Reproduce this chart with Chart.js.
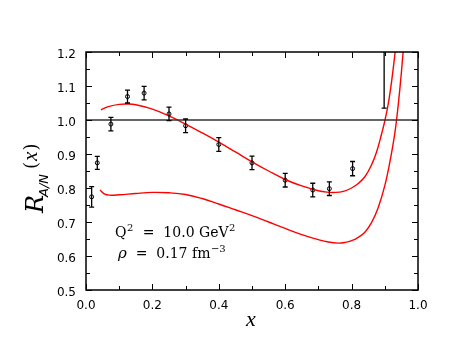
<!DOCTYPE html>
<html>
<head>
<meta charset="utf-8">
<script src="https://cdn.jsdelivr.net/npm/chart.js@4"></script>
<style>
  html, body { margin: 0; padding: 0; background: #fff; }
  #wrap { width: 463px; height: 358px; }
</style>
</head>
<body>
<div id="wrap"><canvas id="ratioChart" width="463" height="358"></canvas></div>
<script>
// measured points with error bars
const dataX = [0.017, 0.034, 0.075, 0.125, 0.175, 0.25, 0.30, 0.40, 0.50, 0.60, 0.683, 0.733, 0.803, 0.898];
const dataY = [0.774, 0.874, 0.988, 1.069, 1.079, 1.018, 0.983, 0.928, 0.874, 0.823, 0.794, 0.798, 0.857, 1.30];
const dataErr = [0.03, 0.019, 0.02, 0.019, 0.02, 0.02, 0.02, 0.02, 0.02, 0.02, 0.02, 0.02, 0.021, 0.265];

// upper model curve
const upperX = [0.045, 0.07, 0.1, 0.125, 0.15, 0.2, 0.25, 0.3, 0.35, 0.4, 0.45, 0.5, 0.55, 0.6, 0.65, 0.7, 0.725, 0.75, 0.775, 0.8, 0.82, 0.84, 0.86, 0.875, 0.89, 0.9, 0.91, 0.92, 0.93, 0.94];
const upperY = [1.030, 1.040, 1.046, 1.047, 1.045, 1.032, 1.012, 0.988, 0.962, 0.935, 0.906, 0.877, 0.850, 0.825, 0.806, 0.792, 0.788, 0.787, 0.790, 0.800, 0.813, 0.833, 0.868, 0.905, 0.958, 0.997, 1.045, 1.11, 1.19, 1.28];

// lower model curve
const lowerX = [0.042, 0.055, 0.07, 0.1, 0.15, 0.2, 0.25, 0.3, 0.35, 0.4, 0.45, 0.5, 0.55, 0.6, 0.65, 0.7, 0.73, 0.76, 0.78, 0.8, 0.82, 0.84, 0.86, 0.88, 0.9, 0.915, 0.93, 0.94, 0.95, 0.96];
const lowerY = [0.794, 0.783, 0.779, 0.780, 0.784, 0.787, 0.786, 0.781, 0.769, 0.753, 0.736, 0.719, 0.700, 0.681, 0.663, 0.648, 0.641, 0.638, 0.640, 0.645, 0.655, 0.670, 0.698, 0.742, 0.807, 0.875, 0.96, 1.04, 1.14, 1.26];

// reference line R = 1
const unityX = [0, 1];
const unityY = [1, 1];

// axis ticks
const xTicks = [0, 0.2, 0.4, 0.6, 0.8, 1.0];
const yTicks = [0.5, 0.6, 0.7, 0.8, 0.9, 1.0, 1.1, 1.2];

const toPts = (xs, ys) => xs.map((x, i) => ({ x: x, y: ys[i] }));

// error bars, frame and inward ticks
const decorPlugin = {
  id: 'decor',
  afterDatasetsDraw(chart) {
    const ctx = chart.ctx;
    const xs = chart.scales.x, ys = chart.scales.y;
    const a = chart.chartArea;

    ctx.save();
    ctx.beginPath();
    ctx.rect(a.left, a.top, a.right - a.left, a.bottom - a.top);
    ctx.clip();
    ctx.strokeStyle = '#000';
    ctx.lineWidth = 1.3;
    dataX.forEach((x, i) => {
      const px = xs.getPixelForValue(x);
      const lo = ys.getPixelForValue(dataY[i] - dataErr[i]);
      const hi = ys.getPixelForValue(dataY[i] + dataErr[i]);
      ctx.beginPath();
      ctx.moveTo(px, lo); ctx.lineTo(px, hi);
      ctx.moveTo(px - 2.5, lo); ctx.lineTo(px + 2.5, lo);
      ctx.moveTo(px - 2.5, hi); ctx.lineTo(px + 2.5, hi);
      ctx.stroke();
    });
    ctx.restore();

    ctx.save();
    ctx.strokeStyle = '#000';
    ctx.lineWidth = 1.5;
    ctx.strokeRect(a.left, a.top, a.right - a.left, a.bottom - a.top);
    ctx.lineWidth = 1;
    ctx.beginPath();
    for (let k = 0; k <= 14; k++) {
      const v = 0.5 + k * 0.05;
      const py = Math.round(ys.getPixelForValue(v)) + 0.5;
      const len = k % 2 === 0 ? 6 : 4;
      ctx.moveTo(a.left, py); ctx.lineTo(a.left + len, py);
      ctx.moveTo(a.right, py); ctx.lineTo(a.right - len, py);
    }
    for (let k = 0; k <= 10; k++) {
      const px = Math.round(xs.getPixelForValue(k * 0.1)) + 0.5;
      const len = k % 2 === 0 ? 6 : 4;
      ctx.moveTo(px, a.bottom); ctx.lineTo(px, a.bottom - len);
      ctx.moveTo(px, a.top); ctx.lineTo(px, a.top + len);
    }
    ctx.stroke();
    ctx.restore();
  },
  afterDraw(chart) {
    const ctx = chart.ctx;
    ctx.save();
    ctx.fillStyle = '#000';

    // x axis title
    ctx.font = 'italic 22px "Liberation Serif"';
    ctx.textAlign = 'center';
    ctx.textBaseline = 'alphabetic';
    ctx.fillText('x', 251, 326);

    // y axis title, rotated
    ctx.save();
    ctx.translate(43, 213);
    ctx.rotate(-Math.PI / 2);
    ctx.textAlign = 'left';
    ctx.font = 'italic 24px "DejaVu Serif"';
    ctx.fillText('R', 0, 0);
    let off = ctx.measureText('R').width - 2;
    ctx.font = 'italic 13px "DejaVu Sans"';
    ctx.fillText('A/N', off, 5);
    off += ctx.measureText('A/N').width + 5;
    ctx.font = '18px "DejaVu Serif"';
    ctx.fillText('(', off, -6);
    off += ctx.measureText('(').width + 1;
    ctx.font = 'italic 21px "Liberation Serif"';
    ctx.fillText('x', off, -6);
    off += ctx.measureText('x').width + 1;
    ctx.font = '18px "DejaVu Serif"';
    ctx.fillText(')', off, -6);
    ctx.restore();

    // annotations
    const big = '14px "DejaVu Serif"';
    const sup = '10px "DejaVu Serif"';
    let x0 = 115;
    ctx.textAlign = 'left';
    ctx.font = big;
    ctx.fillText('Q', x0, 237); x0 += ctx.measureText('Q').width;
    ctx.font = sup;
    ctx.fillText('2', x0 + 0.5, 231); x0 += ctx.measureText('2').width + 1;
    ctx.font = big;
    const mid = '  =  10.0 GeV';
    ctx.fillText(mid, x0, 237); x0 += ctx.measureText(mid).width;
    ctx.font = sup;
    ctx.fillText('2', x0 + 0.5, 231);

    x0 = 118;
    ctx.font = 'italic 15px "DejaVu Serif"';
    ctx.fillText('\u03c1', x0, 258); x0 += ctx.measureText('\u03c1').width;
    ctx.font = big;
    const mid2 = '  =  0.17 fm';
    ctx.fillText(mid2, x0, 258); x0 += ctx.measureText(mid2).width;
    ctx.font = sup;
    ctx.fillText('\u22123', x0 + 0.5, 252);
    ctx.restore();
  }
};

const ctx = document.getElementById('ratioChart').getContext('2d');

new Chart(ctx, {
  type: 'scatter',
  data: {
    datasets: [
      {
        data: toPts(unityX, unityY),
        showLine: true,
        borderColor: '#333',
        borderWidth: 1.6,
        pointRadius: 0
      },
      {
        data: toPts(upperX, upperY),
        showLine: true,
        borderColor: '#ff0000',
        borderWidth: 1.4,
        pointRadius: 0,
        tension: 0.4
      },
      {
        data: toPts(lowerX, lowerY),
        showLine: true,
        borderColor: '#ff0000',
        borderWidth: 1.4,
        pointRadius: 0,
        tension: 0.4
      },
      {
        data: toPts(dataX, dataY),
        showLine: false,
        pointRadius: 2,
        pointBorderWidth: 1,
        pointBorderColor: '#000',
        pointBackgroundColor: '#fff'
      }
    ]
  },
  options: {
    responsive: false,
    devicePixelRatio: 1,
    animation: false,
    events: [],
    layout: { padding: { top: 52, right: 45, left: 0, bottom: 0 } },
    plugins: {
      legend: { display: false },
      tooltip: { enabled: false }
    },
    scales: {
      x: {
        type: 'linear',
        min: 0,
        max: 1,
        afterBuildTicks: (s) => { s.ticks = xTicks.map(v => ({ value: v })); },
        afterFit: (s) => { s.height = 68; },
        grid: { display: false, drawTicks: false },
        border: { display: false },
        ticks: {
          padding: 9,
          color: '#000',
          font: { family: 'DejaVu Sans', size: 12 },
          maxRotation: 0,
          callback: (v) => v.toFixed(1)
        }
      },
      y: {
        type: 'linear',
        min: 0.5,
        max: 1.2,
        afterBuildTicks: (s) => { s.ticks = yTicks.map(v => ({ value: v })); },
        afterFit: (s) => { s.width = 86; },
        grid: { display: false, drawTicks: false },
        border: { display: false },
        ticks: {
          padding: 10,
          labelOffset: 3,
          color: '#000',
          font: { family: 'DejaVu Sans', size: 12 },
          callback: (v) => v.toFixed(1)
        }
      }
    }
  },
  plugins: [decorPlugin]
});
</script>
</body>
</html>
